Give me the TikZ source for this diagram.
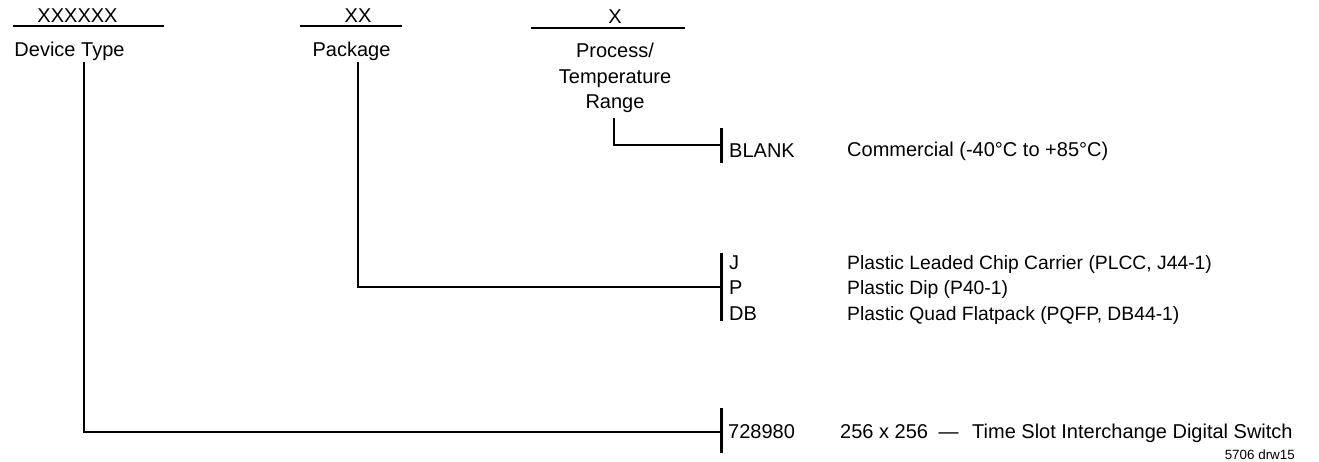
\documentclass[tikz,border=0pt]{standalone}
\usepackage{fontspec}
\setmainfont{Liberation Sans}
\begin{document}
\begin{tikzpicture}[x=1pt,y=-1pt,font=\fontsize{20}{24}\selectfont,
  txt/.style={inner sep=0pt,anchor=base west},
  hd/.style={inner sep=0pt,anchor=base},
  bar/.style={line width=2.2pt},
  wire/.style={line width=2.6pt},
  tick/.style={line width=3pt}]
\useasboundingbox (0,0) rectangle (1319,461);
% field headings
\draw[bar] (13,26)--(164,26);
\node[hd] (xdev) at (77.5,22) {XXXXXX};
\node[hd] (dev) at (69.5,56) {Device Type};
\draw[bar] (300,26)--(402,26);
\node[hd] (xpkg) at (358,22) {XX};
\node[hd] (pkg) at (351.5,56) {Package};
\draw[bar] (531,28)--(685,28);
\node[hd] (xproc) at (615,23) {X};
\node[hd] (proc) at (615,57) {Process/};
\node[hd] (temp) at (615,83) {Temperature};
\node[hd] (range) at (615,108) {Range};
% pins
\coordinate (devpin) at (84,62);
\coordinate (pkgpin) at (358,62);
\coordinate (procpin) at (614,118);
% tick marks
\coordinate (tkB) at (721,145);
\coordinate (tkP) at (721,287);
\coordinate (tkD) at (721,432);
\draw[tick] (721,128)--(721,163);
\draw[tick] (721,253)--(721,321);
\draw[tick] (721,408)--(721,453);
% connectors
\draw[wire] (procpin) |- (tkB);
\draw[wire] (pkgpin) |- (tkP);
\draw[wire] (devpin) |- (tkD);
% codes
\node[txt] (blank) at (729,157) {BLANK};
\node[txt] (j) at (729,269) {J};
\node[txt] (p) at (729,294) {P};
\node[txt] (db) at (729,320) {DB};
\node[txt] (num) at (728,438) {728980};
% descriptions
\node[txt] (com) at (847,156) {Commercial (-40°C to +85°C)};
\node[txt,font=\fontsize{19.3}{23}\selectfont] (plcc) at (847,269) {Plastic Leaded Chip Carrier (PLCC, J44-1)};
\node[txt,font=\fontsize{19.3}{23}\selectfont] (dip) at (847,294) {Plastic Dip (P40-1)};
\node[txt,font=\fontsize{19.3}{23}\selectfont] (pqfp) at (847,320) {Plastic Quad Flatpack (PQFP, DB44-1)};
\node[txt] (tsi) at (840,438) {256 x 256\hspace{5pt} —\hspace{8pt} Time Slot Interchange Digital Switch};
\node[inner sep=0pt,anchor=base east,font=\fontsize{13.4}{16}\selectfont] (drw) at (1295,459) {5706 drw15};
\end{tikzpicture}
\end{document}
